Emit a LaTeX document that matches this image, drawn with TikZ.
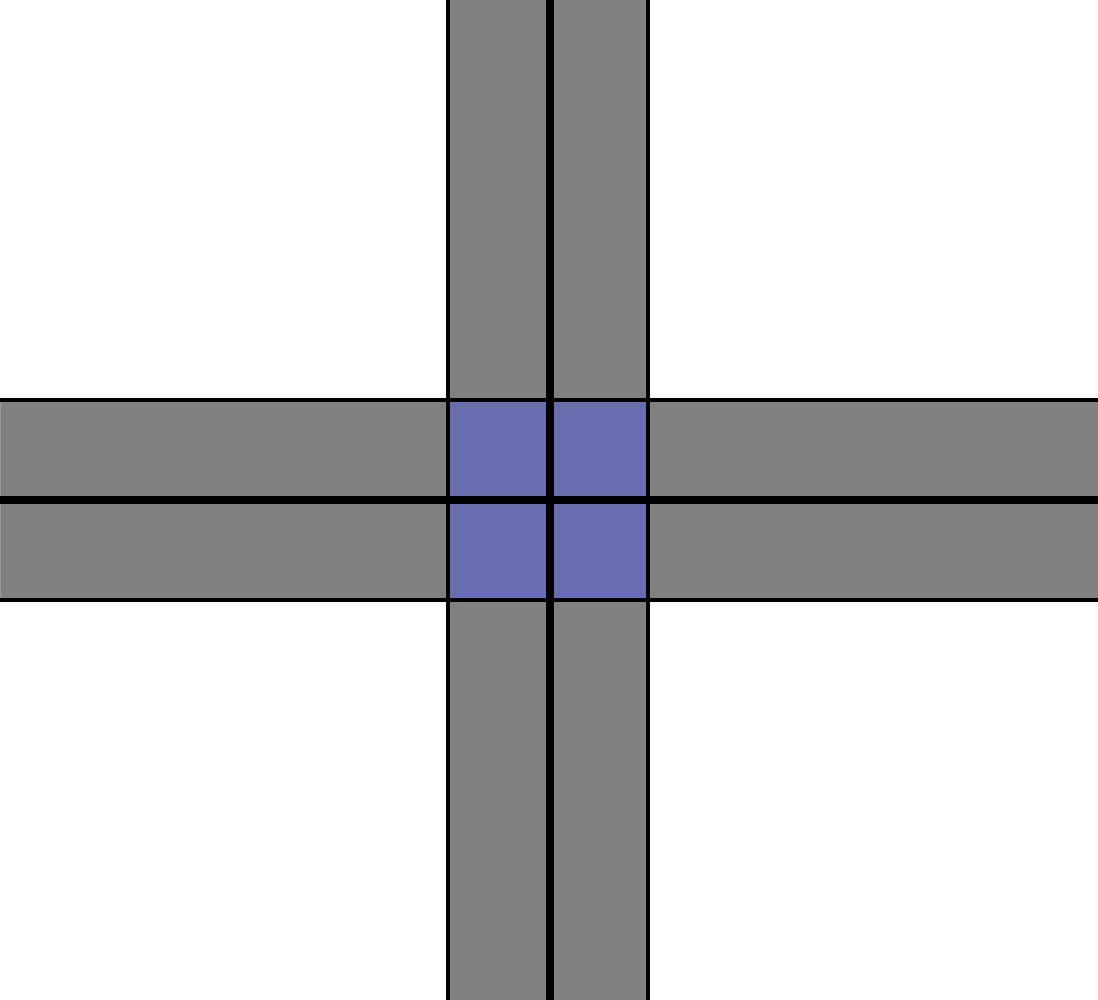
\documentclass[tikz,border=0pt]{standalone}
\definecolor{road}{RGB}{128,128,128}
\definecolor{cross}{RGB}{103,109,174}
\definecolor{rim}{RGB}{150,150,150}
\definecolor{crossrim}{RGB}{120,126,190}
\tikzset{
  roadfill/.style={fill=road, draw=rim, line width=1pt},
  crossfill/.style={fill=cross, draw=crossrim, line width=1pt},
  edgeline/.style={black, line width=4pt},
  midline/.style={black, line width=8pt}
}
\begin{document}
\begin{tikzpicture}[x=1pt,y=-1pt]
\useasboundingbox (0,0) rectangle (1098,1000);
\fill[white] (0,0) rectangle (1098,1000);
% road surfaces
\path[roadfill] (448,0) rectangle (648,400);
\path[roadfill] (448,600) rectangle (648,1000);
\path[roadfill] (0,400) rectangle (448,600);
\path[roadfill] (648,400) rectangle (1098,600);
% intersection
\path[crossfill] (448,400) rectangle (648,600);
% lines
\draw[edgeline] (448,0) -- (448,1000);
\draw[edgeline] (648,0) -- (648,1000);
\draw[edgeline] (0,400) -- (1098,400);
\draw[edgeline] (0,600) -- (1098,600);
\draw[midline] (550,0) -- (550,1000);
\draw[midline] (0,500) -- (1098,500);
\end{tikzpicture}
\end{document}
